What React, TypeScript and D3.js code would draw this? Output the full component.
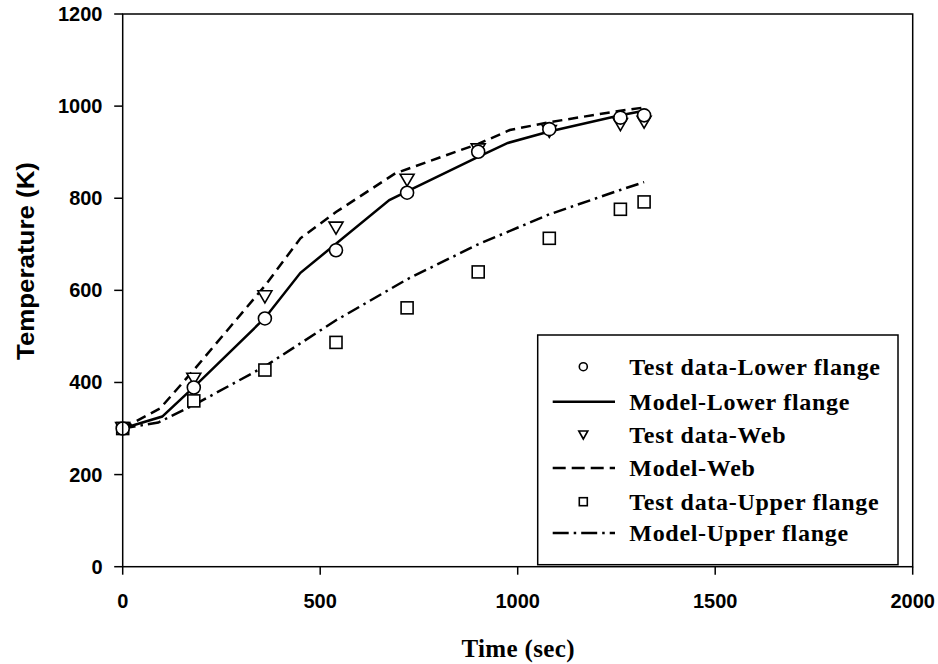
import React from "react";
import * as d3 from "d3";

const xTicks = [0, 500, 1000, 1500, 2000];
const yTicks = [0, 200, 400, 600, 800, 1000, 1200];

const testTime = [0, 180, 360, 540, 720, 900, 1080, 1260, 1320];
const lowerTest = [300, 389, 539, 687, 812, 901, 950, 975, 980];
const webTest = [300, 407, 586, 735, 839, 905, 945, 960, 965];
const upperTest = [300, 360, 427, 487, 562, 640, 713, 776, 792];

const modelLowerTime = [0, 100, 180, 360, 450, 675, 720, 900, 975, 1080, 1260, 1320];
const modelLower = [300, 326, 390, 540, 638, 796, 815, 890, 920, 945, 980, 990];

const modelWebTime = [0, 95, 180, 360, 450, 540, 690, 900, 980, 1080, 1260, 1320];
const modelWeb = [300, 344, 427, 610, 713, 770, 854, 918, 948, 965, 990, 997];

const modelUpperTime = [0, 90, 180, 360, 540, 720, 900, 1080, 1260, 1320];
const modelUpper = [300, 313, 351, 435, 535, 624, 700, 765, 818, 835];

const legendLabels = [
  "Test data-Lower flange",
  "Model-Lower flange",
  "Test data-Web",
  "Model-Web",
  "Test data-Upper flange",
  "Model-Upper flange",
];

const left = 122.7, right = 912.7, top = 14, bottom = 566.7;

export default function App() {
  const x = d3.scaleLinear().domain([0, 2000]).range([left, right]);
  const y = d3.scaleLinear().domain([0, 1200]).range([bottom, top]);
  const line = (ts: number[], vs: number[]) =>
    d3.line<number>().x((_, i) => x(ts[i])).y((v) => y(v))(vs) || "";

  const circle = (cx: number, cy: number, r: number, key: string) => (
    <circle key={key} cx={cx} cy={cy} r={r} fill="white" stroke="black" strokeWidth={1.6} />
  );
  const tri = (cx: number, cy: number, w: number, h: number, key: string) => (
    <path key={key} d={`M${cx - w / 2},${cy - h / 2}L${cx + w / 2},${cy - h / 2}L${cx},${cy + h / 2}Z`} fill="white" stroke="black" strokeWidth={1.6} />
  );
  const sq = (cx: number, cy: number, s: number, key: string) => (
    <rect key={key} x={cx - s / 2} y={cy - s / 2} width={s} height={s} fill="white" stroke="black" strokeWidth={1.6} />
  );

  const legX = 537.7, legY = 335, legW = 360.3, legH = 229.7;
  const rowY = [366.7, 401.7, 435, 468, 501.7, 533];
  const symX = 583.3, lineX1 = 552.7, lineX2 = 615, textX = 629.3;

  return (
    <svg width={938} height={664} style={{ position: "absolute", left: 0, top: 0, background: "white" }}>
      <rect x={0} y={0} width={938} height={664} fill="white" />
      {/* model lines */}
      <path d={line(modelUpperTime, modelUpper)} fill="none" stroke="black" strokeWidth={2.5} strokeDasharray="13,5,2.5,5" />
      <path d={line(modelWebTime, modelWeb)} fill="none" stroke="black" strokeWidth={2.5} strokeDasharray="10,6" />
      <path d={line(modelLowerTime, modelLower)} fill="none" stroke="black" strokeWidth={2.5} />
      {/* test markers */}
      {testTime.map((t, i) => sq(x(t), y(upperTest[i]), 12, "s" + i))}
      {testTime.map((t, i) => tri(x(t), y(webTest[i]), 14, 12, "t" + i))}
      {testTime.map((t, i) => circle(x(t), y(lowerTest[i]), 6.5, "c" + i))}
      {/* frame */}
      <rect x={left} y={top} width={right - left} height={bottom - top} fill="none" stroke="black" strokeWidth={1.5} />
      {xTicks.map((t) => (
        <g key={"xt" + t}>
          <line x1={x(t)} x2={x(t)} y1={bottom} y2={bottom + 8} stroke="black" strokeWidth={1.5} />
          <text x={x(t)} y={607.7} textAnchor="middle" fontFamily="Liberation Sans, Arial, sans-serif" fontWeight="bold" fontSize={20}>{t}</text>
        </g>
      ))}
      {yTicks.map((t) => (
        <g key={"yt" + t}>
          <line x1={left - 8.5} x2={left} y1={y(t)} y2={y(t)} stroke="black" strokeWidth={1.5} />
          <text x={102.5} y={y(t) + 7} textAnchor="end" fontFamily="Liberation Sans, Arial, sans-serif" fontWeight="bold" fontSize={20}>{t}</text>
        </g>
      ))}
      <text transform={`translate(34,261) rotate(-90)`} textAnchor="middle" fontFamily="Liberation Sans, Arial, sans-serif" fontWeight="bold" fontSize={24} textLength={198} lengthAdjust="spacingAndGlyphs">Temperature (K)</text>
      <text x={518} y={656.7} textAnchor="middle" fontFamily="Liberation Serif, Times New Roman, serif" fontWeight="bold" fontSize={25} textLength={113} lengthAdjust="spacing">Time (sec)</text>
      {/* legend */}
      <rect x={legX} y={legY} width={legW} height={legH} fill="white" stroke="black" strokeWidth={1.5} />
      {circle(symX, rowY[0], 4, "lc")}
      <line x1={lineX1} x2={lineX2} y1={rowY[1]} y2={rowY[1]} stroke="black" strokeWidth={2.5} />
      {tri(symX, rowY[2], 9, 8, "lt")}
      <line x1={lineX1} x2={lineX2} y1={rowY[3]} y2={rowY[3]} stroke="black" strokeWidth={2.5} strokeDasharray="13,6" />
      {sq(symX, rowY[4], 8, "ls")}
      <line x1={lineX1} x2={lineX2} y1={rowY[5]} y2={rowY[5]} stroke="black" strokeWidth={2.5} strokeDasharray="16,5,2.5,5" />
      {legendLabels.map((l, i) => (
        <text key={l} x={textX} y={rowY[i] + 8} fontFamily="Liberation Serif, Times New Roman, serif" fontWeight="bold" fontSize={24} letterSpacing={0.7}>{l}</text>
      ))}
    </svg>
  );
}
